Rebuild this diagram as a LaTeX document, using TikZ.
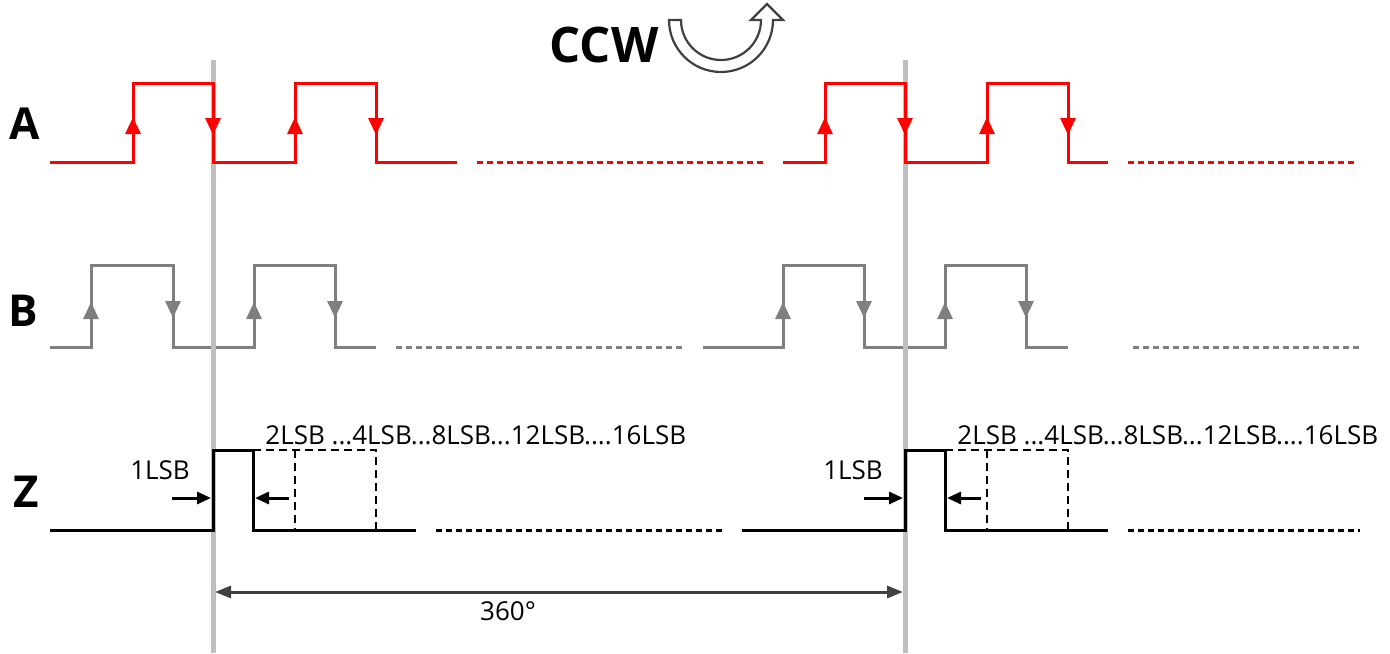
\documentclass[tikz,border=0pt]{standalone}
\usepackage{fontspec}
\setmainfont{Open Sans}
\usetikzlibrary{arrows.meta}

\definecolor{sigred}{HTML}{FF0000}
\definecolor{siggray}{HTML}{7F7F7F}
\definecolor{guide}{HTML}{BFBFBF}
\definecolor{darkline}{HTML}{404040}

\tikzset{
  wave/.style={line width=1.5pt, line join=miter},
  cont/.style={line width=1.5pt, dash pattern=on 3pt off 2pt},
  edgetip/.style={-{Triangle[length=8.5pt,width=7.5pt]}, line width=1.5pt},
  lsbtip/.style={-{Triangle[length=7pt,width=6pt]}, line width=1.5pt},
  lsbdash/.style={line width=0.75pt, dash pattern=on 4pt off 2.5pt},
  siglabel/.style={font=\fontsize{22}{26}\selectfont\bfseries, inner sep=0pt},
  lsbtext/.style={font=\fontsize{13}{15}\selectfont, inner sep=0pt},
}

\begin{document}
\begin{tikzpicture}[x=0.5pt, y=-0.5pt]
  \useasboundingbox (0,0) rectangle (1390,653);
  % signal B
  \draw[wave, siggray] (50,347) -- (91,347) -- (91,265) -- (173,265) -- (173,347)
    -- (254,347) -- (254,265) -- (335,265) -- (335,347) -- (376,347);
  \draw[cont, siggray] (396,347) -- (683,347);
  \draw[wave, siggray] (703,347) -- (783,347) -- (783,265) -- (864,265) -- (864,347)
    -- (945,347) -- (945,265) -- (1026,265) -- (1026,347) -- (1068,347);
  \draw[cont, siggray] (1133,347) -- (1360,347);
  \draw[edgetip, siggray] (91,325) -- (91,302);
  \draw[edgetip, siggray] (173,295) -- (173,318);
  \draw[edgetip, siggray] (254,325) -- (254,302);
  \draw[edgetip, siggray] (335,295) -- (335,318);
  \draw[edgetip, siggray] (783,325) -- (783,302);
  \draw[edgetip, siggray] (864,295) -- (864,318);
  \draw[edgetip, siggray] (945,325) -- (945,302);
  \draw[edgetip, siggray] (1026,295) -- (1026,318);
  % one turn
  \draw[guide, line width=2.5pt] (213,60) -- (213,653);
  \draw[guide, line width=2.5pt] (905,60) -- (905,653);
  % signal A
  \draw[wave, sigred] (50,162) -- (133,162) -- (133,83) -- (213,83) -- (213,162)
    -- (295,162) -- (295,83) -- (376,83) -- (376,162) -- (457,162);
  \draw[cont, sigred] (477,162) -- (763,162);
  \draw[wave, sigred] (783,162) -- (825,162) -- (825,83) -- (905,83) -- (905,162)
    -- (987,162) -- (987,83) -- (1068,83) -- (1068,162) -- (1108,162);
  \draw[cont, sigred] (1128,162) -- (1355,162);
  \draw[edgetip, sigred] (133,140) -- (133,117);
  \draw[edgetip, sigred] (213,112) -- (213,135);
  \draw[edgetip, sigred] (295,140) -- (295,117);
  \draw[edgetip, sigred] (376,112) -- (376,135);
  \draw[edgetip, sigred] (825,140) -- (825,117);
  \draw[edgetip, sigred] (905,112) -- (905,135);
  \draw[edgetip, sigred] (987,140) -- (987,117);
  \draw[edgetip, sigred] (1068,112) -- (1068,135);
  % signal Z
  \draw[wave] (50,530) -- (213,530) -- (213,450) -- (253,450) -- (253,530) -- (416,530);
  \draw[lsbdash] (253,450) -- (376,450) -- (376,530);
  \draw[lsbdash] (295,450) -- (295,530);
  \draw[cont] (436,530) -- (723,530);
  \draw[wave] (742,530) -- (905,530) -- (905,450) -- (945,450) -- (945,530) -- (1108,530);
  \draw[lsbdash] (945,450) -- (1068,450) -- (1068,530);
  \draw[lsbdash] (987,450) -- (987,530);
  \draw[cont] (1128,530) -- (1360,530);
  \draw[lsbtip] (172,498) -- (211,498);
  \draw[lsbtip] (289,498) -- (255,498);
  \draw[lsbtip] (864,498) -- (903,498);
  \draw[lsbtip] (981,498) -- (947,498);
  \node[lsbtext] (oneA) at (160,470) {1LSB};
  \node[lsbtext] (oneB) at (853,470) {1LSB};
  \node[lsbtext, anchor=base west] (widthA) at (265,444) {2LSB ...4LSB...8LSB...12LSB....16LSB};
  \node[lsbtext, anchor=base west] (widthB) at (957,444) {2LSB ...4LSB...8LSB...12LSB....16LSB};
  % labels
  \node[siglabel] (labA) at (25,124) {A};
  \node[siglabel] (labB) at (23,311) {B};
  \node[siglabel] (labZ) at (26,492) {Z};
  % direction
  \node[font=\fontsize{24.5}{28}\selectfont\bfseries, inner sep=0pt] (ccw) at (604,45) {CCW};
  \draw[darkline, line width=1.1pt, fill=white, line join=miter]
    (669,20) arc[start angle=180, end angle=360, radius=26pt]
    -- (783,20) -- (767,4) -- (751,20) -- (761,20)
    arc[start angle=0, end angle=-180, radius=20pt] -- cycle;
  % 360 degrees
  \coordinate (turnL) at (215,592);
  \coordinate (turnR) at (903,592);
  \draw[darkline, line width=1.5pt, {Triangle[length=8pt,width=6pt]}-{Triangle[length=8pt,width=6pt]}]
    (turnL) -- (turnR);
  \node[lsbtext] (deg) at (508,611) {360°};
\end{tikzpicture}
\end{document}
